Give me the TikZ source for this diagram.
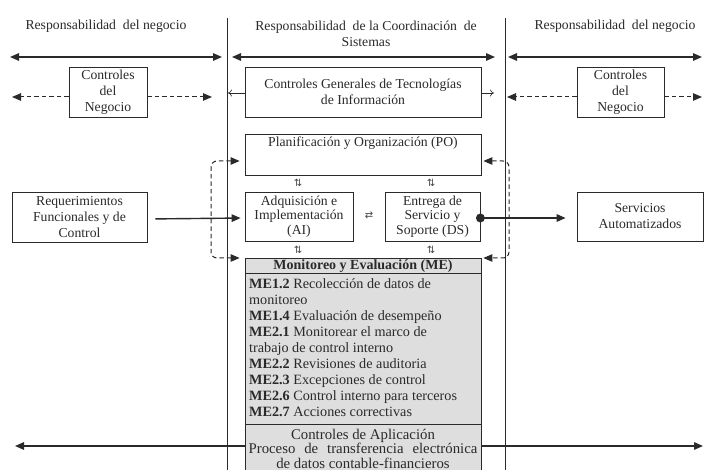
\documentclass[tikz,border=0pt]{standalone}
\usepackage{fontspec}
\setmainfont{Liberation Serif}
\newfontfamily\symfont{DejaVu Sans}
\usetikzlibrary{arrows.meta}
\definecolor{ink}{HTML}{2A2A2A}
\definecolor{panelgray}{HTML}{DEDEDE}
\begin{document}
\begin{tikzpicture}[x=1pt,y=-1pt,
  every node/.style={text=ink},
  txt/.style={align=center, inner sep=0pt, font=\fontsize{13.7}{16}\selectfont},
  boxx/.style={draw=ink, line width=0.8pt, inner sep=0pt, align=center, font=\fontsize{13.7}{16}\selectfont},
  panel/.style={draw=ink, line width=0.8pt, fill=panelgray, inner sep=0pt},
  bigtip/.tip={Triangle[length=9pt,width=7.5pt]},
  solidarrow/.style={line width=1.4pt, draw=ink},
  dasharrow/.style={line width=1pt, draw=ink, dashed, dash pattern=on 4.5pt off 3pt},
  thinline/.style={line width=0.9pt, draw=ink},
  smallsym/.style={inner sep=0pt, font=\symfont\fontsize{10}{10}\selectfont, text=gray!55!black}
]
\useasboundingbox (0,0) rectangle (705,470);

% vertical lines
\coordinate (v1t) at (227,18); \coordinate (v1b) at (227,475);
\coordinate (v2t) at (505,18); \coordinate (v2b) at (505,475);
\draw[thinline] (v1t) -- (v1b);
\draw[thinline] (v2t) -- (v2b);

% headers
\node[txt] (hl) at (106,26) {Responsabilidad\ \ del negocio};
\node[txt] (hc) at (366,34) {Responsabilidad\ \ de la Coordinación\ \ de\\Sistemas};
\node[txt] (hr) at (615,26) {Responsabilidad\ \ del negocio};

% top double arrows
\coordinate (a1l) at (10,57); \coordinate (a1r) at (222,57);
\coordinate (a2l) at (232,57); \coordinate (a2r) at (495,57);
\coordinate (a3l) at (508,57); \coordinate (a3r) at (702,57);
\draw[solidarrow, bigtip-bigtip] (a1l) -- (a1r);
\draw[solidarrow, bigtip-bigtip] (a2l) -- (a2r);
\draw[solidarrow, bigtip-bigtip] (a3l) -- (a3r);

% controls row
\node[boxx, minimum width=78pt, minimum height=50pt] (ctl) at (108,92) {Controles\\del\\Negocio};
\node[boxx, minimum width=236pt, minimum height=50pt] (cgti) at (363,92) {Controles\ Generales\ de\ Tecnologías\\de Información};
\node[boxx, minimum width=87pt, minimum height=50pt] (ctr) at (620.5,92) {Controles\\del\\Negocio};

\coordinate (dl1) at (12,97); \coordinate (dl2) at (212,97);
\coordinate (dr1) at (507,97); \coordinate (dr2) at (702,97);
\draw[dasharrow, -bigtip] ([yshift=-5]ctl.west) -- (dl1);
\draw[dasharrow, -bigtip] ([yshift=-5]ctl.east) -- (dl2);
\draw[dasharrow, -bigtip] ([yshift=-5]ctr.west) -- (dr1);
\draw[dasharrow, -bigtip] ([yshift=-5]ctr.east) -- (dr2);

\coordinate (sl) at (228,93); \coordinate (sr) at (494,93);
\draw[line width=0.6pt, draw=ink, -{To[length=4pt,width=7pt]}] ([yshift=-1]cgti.west) -- (sl);
\draw[line width=0.6pt, draw=ink, -{To[length=4pt,width=7pt]}] ([yshift=-1]cgti.east) -- (sr);

% PO
\node[boxx, minimum width=236pt, minimum height=41pt] (po) at (363,154.5) {};
\node[txt] (potext) at (363,143) {Planificación y Organización (PO)};

% AI / DS
\node[boxx, minimum width=108pt, minimum height=49pt, font=\fontsize{13.7}{14.5}\selectfont] (ai) at (299,216.5) {Adquisición e\\Implementación\\(AI)};
\node[boxx, minimum width=95pt, minimum height=49pt, font=\fontsize{13.7}{14.5}\selectfont] (ds) at (432.5,216.5) {Entrega de\\Servicio y\\Soporte (DS)};

\node[smallsym] (s1) at (298,183) {⇅};
\node[smallsym] (s2) at (431,183) {⇅};
\node[smallsym] (s3) at (298,250) {⇅};
\node[smallsym] (s4) at (431,250) {⇅};
\node[smallsym] (s5) at (369,215) {⇄};

% side boxes
\node[boxx, minimum width=135pt, minimum height=50pt] (req) at (79.5,217) {Requerimientos\\Funcionales y de\\Control};
\node[boxx, minimum width=126pt, minimum height=49pt] (serv) at (640,216.5) {Servicios\\Automatizados};

\draw[solidarrow, -bigtip, shorten <=8pt, shorten >=4pt] ([yshift=-2]req.east) -- ([yshift=-1.5]ai.west);
\fill[ink] ([yshift=-1.5]ds.east) circle (4.5pt);
\draw[solidarrow, -bigtip, shorten >=11pt] ([yshift=-1.5]ds.east) -- ([yshift=-1.5]serv.west);

% ME
\node[panel, minimum width=236pt, minimum height=15pt] (mehead) at (363,265.5) {};
\node[inner sep=0pt, font=\bfseries\fontsize{14}{16}\selectfont] (metitle) at (363,266) {Monitoreo y Evaluación (ME)};
\node[panel, minimum width=236pt, minimum height=151pt] (mebody) at (363,348.5) {};
\node[inner sep=0pt, anchor=north west, align=left, font=\fontsize{14.2}{16}\selectfont] (metext) at (249,278.5) {%
\textbf{ME1.2} Recolección de datos de\\
monitoreo\\
\textbf{ME1.4} Evaluación de desempeño\\
\textbf{ME2.1} Monitorear el marco de\\
trabajo de control interno\\
\textbf{ME2.2} Revisiones de auditoria\\
\textbf{ME2.3} Excepciones de control\\
\textbf{ME2.6} Control interno para terceros\\
\textbf{ME2.7} Acciones correctivas};

\node[panel, minimum width=236pt, minimum height=56pt] (ca) at (363,452) {};
\node[txt, font=\fontsize{14.8}{14.5}\selectfont] (catext) at (363,448.5) {Controles de Aplicación\\Proceso\hspace{0.6em}de\hspace{0.6em}transferencia\hspace{0.6em}electrónica\\de datos contable-financieros};

\coordinate (bl) at (15,446); \coordinate (br) at (703,446);
\draw[solidarrow, -bigtip] ([yshift=6]ca.west) -- (bl);
\draw[solidarrow, -bigtip] ([yshift=6]ca.east) -- (br);

% dashed brackets
\coordinate (lbx) at (211,200);
\coordinate (rbx) at (509,200);
\draw[dasharrow, rounded corners=6pt, bigtip-bigtip, shorten <=5pt, shorten >=5pt]
  ([yshift=-6.5]po.west) -| (lbx) |- ([yshift=7.5]mehead.west);
\draw[dasharrow, rounded corners=6pt, bigtip-bigtip, shorten <=2pt, shorten >=2pt]
  ([yshift=-6.5]po.east) -| (rbx) |- ([yshift=7.5]mehead.east);
\end{tikzpicture}
\end{document}
